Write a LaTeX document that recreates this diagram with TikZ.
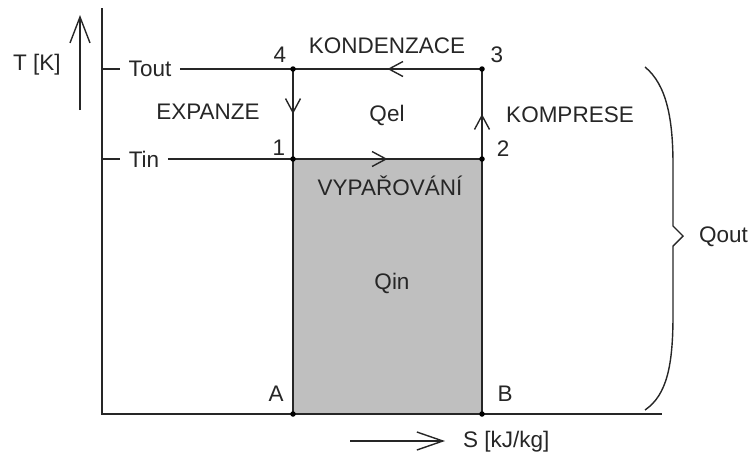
\documentclass[tikz,border=0pt]{standalone}
\usepackage{fontspec}
\setmainfont{Liberation Sans}
\usepackage{tikz}
\usetikzlibrary{positioning, arrows}
\usetikzlibrary{arrows.meta, decorations.markings}

\begin{document}
\begin{tikzpicture}[x=1pt, y=-1pt, line width=1.4pt, color=black!85,
    >={Straight Barb[length=14pt, width=15pt]},
    every node/.style={font=\fontsize{22.5}{26}\selectfont},
    dot/.style={circle, fill=black, inner sep=0pt, minimum size=5.5pt},
    tlabel/.style={inner xsep=8pt, inner ysep=0pt},
    midarrow/.style={postaction={decorate}, decoration={markings, mark=at position 0.5 with {\arrow{>}}}}]
    \useasboundingbox (0,0) rectangle (752,456);

    % Define points
    \foreach \n/\x/\y in {4/293/69, 3/482/69, 1/293/159, 2/482/159, A/293/414, B/482/414} {
        \coordinate (p\n) at (\x,\y);
    }
    \coordinate (o) at (102,414);
    \coordinate (ytop) at (102,8);
    \coordinate (xend) at (662,414);

    % Gray area
    \fill[black!25] (p1) rectangle (pB);

    % Axes
    \draw (ytop) -- (o) -- (xend);
    \coordinate (tbot) at (80,110);
    \coordinate (ttip) at (80,15);
    \draw[-{Straight Barb[length=26pt, width=20pt]}] (tbot) -- (ttip);
    \node (tk) at (37,65) {T [K]};
    \coordinate (sstart) at (350,441);
    \coordinate (stip) at (445,441);
    \draw[-{Straight Barb[length=26pt, width=18pt]}] (sstart) -- (stip);
    \node[anchor=west] (skg) at (459,442) {S [kJ/kg]};

    % Temperature levels
    \coordinate (tickout) at (102,69);
    \coordinate (tickin) at (102,159);
    \node[tlabel] (tout) at (150,69) {Tout};
    \node[tlabel] (tin) at (144,159) {Tin};
    \draw (tickout) -- (tout);
    \draw (tout) -- (p4);
    \draw (tickin) -- (tin);
    \draw (tin) -- (p1);

    % Draw cycle with arrows
    \draw[midarrow] (p3) -- (p4);
    \draw[midarrow] (p4) -- (p1);
    \draw[midarrow] (p1) -- (p2);
    \draw[midarrow] (p2) -- (p3);
    \draw (p1) -- (pA);
    \draw (p2) -- (pB);
    \foreach \n in {1,2,3,4,A,B} {
        \node[dot] (d\n) at (p\n) {};
    }

    % Point labels
    \node (l4) at (280,55) {4};
    \node (l3) at (497,55) {3};
    \node (l1) at (279,148) {1};
    \node (l2) at (503,149) {2};
    \node (lA) at (276,394) {A};
    \node (lB) at (505,394) {B};

    % Process labels
    \node (kond) at (387,46) {KONDENZACE};
    \node (expa) at (208,112) {EXPANZE};
    \node (komp) at (570,115) {KOMPRESE};
    \node (qel) at (387,115) {Qel};
    \node (vypa) at (390,186) {VYPAŘOVÁNÍ};
    \node (qin) at (392,283) {Qin};

    % Brace
    \coordinate (bracetop) at (645,67);
    \coordinate (bracetip) at (683,236);
    \coordinate (bracebot) at (645,410);
    \draw (bracetop) .. controls (667,85) and (673,120) .. (673,165) -- (673,226) -- (bracetip)
        -- (673,246) -- (673,315) .. controls (673,365) and (667,395) .. (bracebot);
    \node[anchor=west] (qout) at (695,237) {Qout};

\end{tikzpicture}
\end{document}
